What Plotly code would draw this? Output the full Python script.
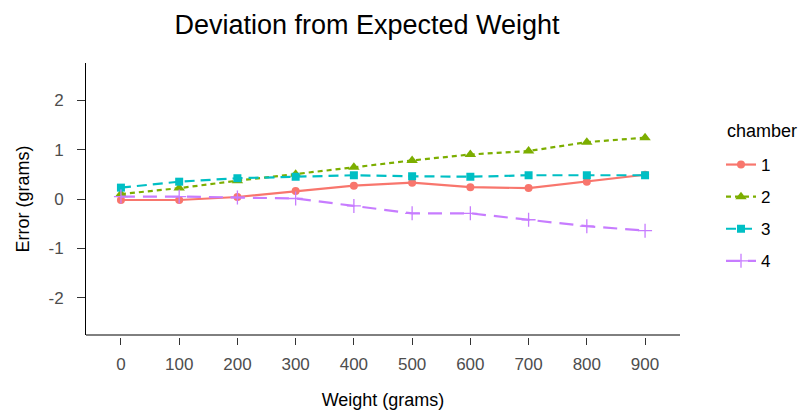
import plotly.graph_objects as go

weights = ["0", "100", "200", "300", "400", "500", "600", "700", "800", "900"]
chamber_names = ["1", "2", "3", "4"]
err_1 = [-0.02, -0.02, 0.04, 0.16, 0.27, 0.33, 0.24, 0.22, 0.35, 0.49]
err_2 = [0.10, 0.22, 0.37, 0.50, 0.64, 0.78, 0.90, 0.97, 1.15, 1.24]
err_3 = [0.23, 0.35, 0.42, 0.45, 0.48, 0.46, 0.45, 0.48, 0.48, 0.48]
err_4 = [0.05, 0.05, 0.03, 0.01, -0.14, -0.29, -0.29, -0.42, -0.55, -0.64]
y_ticks = [-2, -1, 0, 1, 2]
y_tick_labels = ["-2", "-1", "0", "1", "2"]

colors = ["#F8766D", "#7CAE00", "#00BFC4", "#C77CFF"]
symbols = ["circle", "triangle-up", "square", "cross-thin"]
dashes = ["solid", "5px,4px", "10px,6px", "14px,8px"]
sizes = [8, 10, 8, 10]
series = [err_1, err_2, err_3, err_4]

FONT = "Liberation Sans, Arial, sans-serif"

fig = go.Figure()
for name, vals, c, s, d, sz in zip(chamber_names, series, colors, symbols, dashes, sizes):
    marker = dict(color=c, symbol=s, size=sz)
    if s == "cross-thin":
        marker["line"] = dict(color=c, width=1.3)
    fig.add_trace(go.Scatter(
        x=weights, y=vals, name=name, mode="lines+markers",
        line=dict(color=c, width=2.2, dash=d),
        marker=marker, legendgroup=name,
    ))

W, H = 803, 410
ml, mr, mt, mb = 86, 123, 63, 73
plot_w = W - ml - mr
plot_h = H - mt - mb
d = 2 / plot_h

fig.update_layout(
    width=W, height=H,
    margin=dict(l=ml, r=mr, t=mt, b=mb, autoexpand=False),
    paper_bgcolor="white", plot_bgcolor="white",
    font=dict(family=FONT, color="#000000"),
    title=dict(text="Deviation from Expected Weight", font=dict(size=27, color="#000000"),
               x=367 / W, xanchor="center", xref="container",
               y=1 - 25 / H, yanchor="middle", yref="container"),
    xaxis=dict(type="category", range=[-0.6, 9.6], anchor="free", position=0,
               automargin=False,
               showline=False, showgrid=False, zeroline=False,
               ticks="outside", ticklen=7, tickwidth=1, tickcolor="#333333",
               ticklabelstandoff=5,
               tickfont=dict(size=17, color="#4D4D4D"),
               title=dict(text="Weight (grams)", font=dict(size=18, color="#000000"), standoff=24)),
    yaxis=dict(domain=[d, 1], range=[-2.75, 2.75], tickvals=y_ticks, ticktext=y_tick_labels,
               automargin=False,
               showline=True, linecolor="#000000", linewidth=1,
               showgrid=False, zeroline=False,
               ticks="outside", ticklen=8, tickwidth=1, tickcolor="#333333",
               ticklabelstandoff=10,
               tickfont=dict(size=17, color="#4D4D4D"),
               title=dict(text="Error (grams)", font=dict(size=18, color="#000000"), standoff=14)),
    legend=dict(x=(721 - ml) / plot_w, xanchor="left", y=(H - mb - 147) / plot_h, yanchor="top",
                font=dict(size=17, color="#000000"), tracegroupgap=7,
                itemwidth=30, bgcolor="rgba(0,0,0,0)"),
    annotations=[dict(text="chamber", xref="paper", yref="paper",
                      x=(725 - ml) / plot_w, xanchor="left",
                      y=(H - mb - 131) / plot_h, yanchor="middle",
                      showarrow=False, font=dict(size=18, color="#000000"))],
    shapes=[dict(type="line", xref="paper", yref="paper", x0=0, x1=1, y0=d, y1=d,
                 line=dict(color="#000000", width=1))],
)

fig.write_html("out.html")
